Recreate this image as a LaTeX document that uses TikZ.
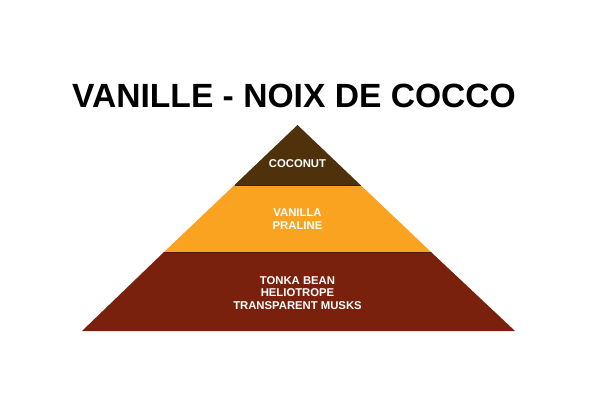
\documentclass[tikz,border=0pt]{standalone}
\usepackage{fontspec}
\setmainfont{Liberation Sans}
\usepackage{xcolor}
\usetikzlibrary{positioning, calc}

\definecolor{topbrown}{HTML}{4F320B}
\definecolor{midorange}{HTML}{F9A321}
\definecolor{basered}{HTML}{7A210D}

\begin{document}
\begin{tikzpicture}[
				x=1pt, y=-1pt,
				% --- ESTILOS ---
				tiertext/.style={
					text=white, align=center, inner sep=0pt,
					font=\bfseries\fontsize{11.3}{12.8}\selectfont
				},
				titletext/.style={
					text=black, inner sep=0pt,
					font=\bfseries\fontsize{33.6}{40}\selectfont
				}
				]
				
				% --- Marco ---
				\useasboundingbox[fill=white] (0,0) rectangle (600,420);
				
				% --- 1. Titulo ---
				\node [titletext] (title) at (294,96) {VANILLE - NOIX DE COCCO};
				
				% --- 2. Piramide ---
				\coordinate (apex) at (297.5,125);
				\coordinate (t_left) at (234.5,185);
				\coordinate (t_right) at (360.5,185);
				\coordinate (m_left) at (164,252);
				\coordinate (m_right) at (431,252);
				\coordinate (b_left) at (82,331);
				\coordinate (b_right) at (515,331);
				
				% Nivel base
				\fill [basered] (m_left) -- (m_right) -- (b_right) -- (b_left) -- cycle;
				% Nivel medio
				\fill [midorange] (t_left) -- (t_right) -- (m_right) -- (m_left) -- cycle;
				\draw [basered!70!black, line width=0.8pt] (m_left) -- (m_right);
				% Nivel superior
				\fill [topbrown] (apex) -- (t_right) -- (t_left) -- cycle;
				\draw [topbrown!70!black, line width=0.8pt] (t_left) -- (t_right);
				
				% --- 3. Textos ---
				\node [tiertext] (coconut) at (297.5,164) {COCONUT};
				\node [tiertext] (vanilla) at (297.5,219) {VANILLA\\PRALINE};
				\node [tiertext] (tonka) at (297.5,293) {TONKA BEAN\\HELIOTROPE\\TRANSPARENT MUSKS};
				
			\end{tikzpicture}
\end{document}
